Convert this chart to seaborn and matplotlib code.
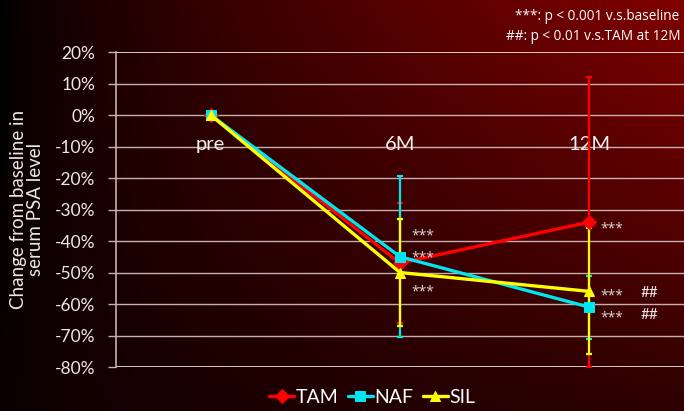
import numpy as np
import pandas as pd
import matplotlib
matplotlib.use("Agg")
import matplotlib.pyplot as plt
import seaborn as sns

# Follow-up visits and PSA change (%) per treatment group
categories = ["pre", "6M", "12M"]
groups = ["TAM", "NAF", "SIL"]
tam_mean = [0, -47, -34]
tam_err = [0, 19, 46]
naf_mean = [0, -45, -61]
naf_err = [0, 25.5, 10]
sil_mean = [0, -50, -56]
sil_err = [0, 17, 20]
yticks = [20, 10, 0, -10, -20, -30, -40, -50, -60, -70, -80]

# Significance marks: (visit index, y value, label)
star_marks = [(1, -38.3, "***"), (1, -45.3, "***"), (1, -56.3, "***"),
              (2, -36.3, "***"), (2, -57.3, "***"), (2, -64.3, "***")]
hash_marks = [(2, -56.5, "##"), (2, -63.5, "##")]

colors = {"TAM": "#ff0000", "NAF": "#00e5ee", "SIL": "#ffff00"}
markers = {"TAM": "D", "NAF": "s", "SIL": "^"}
msizes = {"TAM": 8, "NAF": 9, "SIL": 10}

means = {"TAM": tam_mean, "NAF": naf_mean, "SIL": sil_mean}
errs = {"TAM": tam_err, "NAF": naf_err, "SIL": sil_err}

df = pd.DataFrame({
    "visit": np.tile(np.arange(len(categories)), len(groups)),
    "change": tam_mean + naf_mean + sil_mean,
    "group": np.repeat(groups, len(categories)),
})

sns.set_theme(style="white")
plt.rcParams["font.family"] = ["Lato", "DejaVu Sans"]
star_font = ["Open Sans", "DejaVu Sans"]

fig = plt.figure(figsize=(6.84, 4.11), dpi=100)

# Dark-red gradient backdrop
bg = fig.add_axes([0, 0, 1, 1], zorder=-10)
W, H = 684, 411
xf = np.linspace(0, 1, W)[None, :]
yf = np.linspace(0, 1, H)[:, None]
red = 128 * xf ** 0.75 * (1 - 0.72 * yf) + 10 * yf
img = np.zeros((H, W, 3))
img[..., 0] = np.clip(red, 0, 255) / 255
bg.imshow(img, aspect="auto", extent=[0, 1, 0, 1], origin="upper")
bg.set_axis_off()

ax = fig.add_axes([116 / 684, 1 - 367 / 411, 1 - 116 / 684, (367 - 52) / 411])
ax.set_facecolor("none")

for g in groups:
    x = np.arange(len(categories))
    ax.errorbar(x[1:], means[g][1:], yerr=errs[g][1:], fmt="none",
                ecolor=colors[g], elinewidth=1.6, capsize=2.5, capthick=1.6,
                zorder=3)
    sub = df[df["group"] == g]
    sns.lineplot(data=sub, x="visit", y="change", color=colors[g],
                 marker=markers[g], markersize=msizes[g],
                 markeredgecolor=colors[g], linewidth=2.4, ax=ax,
                 label=g, zorder=4)

ax.set_xlim(-0.5, 2.5)
ax.set_ylim(-80, 20)
ax.set_yticks(yticks)
ax.set_yticklabels([f"{v}%" for v in yticks], color="#f0e8e8", fontsize=12.5)
ax.set_xticks([])
ax.set_xlabel("")
ax.set_ylabel("Change from baseline in\nserum PSA level", color="#f0e8e8",
              fontsize=13.5, linespacing=1.0, labelpad=8)

for v in yticks:
    bright = v in (20, -80)
    ax.axhline(v, color="#e8dada" if bright else "#c8b0b0",
               lw=1.3 if bright else 1.0, zorder=1)

for s in ["top", "right", "bottom"]:
    ax.spines[s].set_visible(False)
ax.spines["left"].set_color("#c8b0b0")
ax.spines["left"].set_linewidth(1.2)
ax.tick_params(axis="y", which="both", left=True, length=6, width=1,
               color="#c8b0b0", pad=9)

for i, c in enumerate(categories):
    ax.text(i, -9.3, c, ha="center", va="center", color="#f4eeee",
            fontsize=14.5, zorder=2)

for i, y, t in star_marks:
    ax.text(i + 0.06, y, t, ha="left", va="center", color="#e0d8d8",
            fontsize=10, family=star_font, zorder=5)
for i, y, t in hash_marks:
    ax.text(i + 0.27, y, t, ha="left", va="center", color="#f0e8e8",
            fontsize=11, zorder=5)

fig.text(679 / 684, 1 - 16 / 411, "***: p < 0.001 v.s.baseline",
         ha="right", va="center", color="white", fontsize=9.8,
         family=star_font)
fig.text(681 / 684, 1 - 37 / 411, "##: p < 0.01 v.s.TAM at 12M",
         ha="right", va="center", color="white", fontsize=9.8,
         family=star_font)

handles, labels = ax.get_legend_handles_labels()
for h in handles:
    h.set_markersize(7)
leg = ax.legend(handles, labels, loc="center", ncol=3, frameon=False,
                fontsize=14, handlelength=1.3, handletextpad=0.05,
                columnspacing=0.5, labelcolor="white")
leg.set_bbox_to_anchor((372 / 684, 1 - 397.5 / 411), transform=fig.transFigure)

fig.savefig("out.png", dpi=100)
